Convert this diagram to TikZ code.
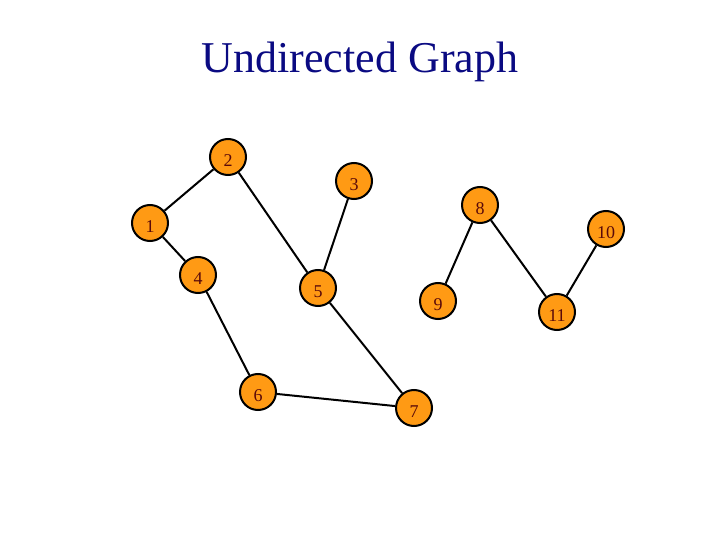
\documentclass[tikz,border=0pt]{standalone}
\usepackage{fontspec}
\setmainfont{Liberation Serif}
\usepackage{xcolor}
\usepackage{tikz}
\usetikzlibrary{positioning}

\definecolor{vertexorange}{RGB}{255,154,20}
\definecolor{labelred}{RGB}{90,10,10}
\definecolor{titleblue}{RGB}{10,10,130}

\tikzset{
  vertex/.style={circle, draw=black, line width=2pt, fill=vertexorange,
    minimum size=36pt, inner sep=0pt, text=labelred,
    font=\fontsize{18}{18}\selectfont, text height=19pt, text depth=0pt},
  edge/.style={line width=2pt, draw=black}
}

\begin{document}
\begin{tikzpicture}[x=1pt, y=-1pt]
  \useasboundingbox (0,0) rectangle (720,540);
  % Title
  \node[text=titleblue, font=\fontsize{44}{44}\selectfont, anchor=base] (title) at (360,73) {Undirected Graph};
  % Vertices
  \foreach \n/\x/\y in {1/150/223, 2/228/157, 3/354/181, 4/198/275, 5/318/288,
                        6/258/392, 7/414/408, 8/480/205, 9/438/301, 10/606/229,
                        11/557/312} {
    \node[vertex] (v\n) at (\x,\y) {\n};
  }
  % Edges
  \foreach \a/\b in {1/2, 1/4, 2/5, 3/5, 4/6, 6/7, 5/7, 8/9, 8/11, 10/11} {
    \draw[edge] (v\a) -- (v\b);
  }
\end{tikzpicture}
\end{document}
